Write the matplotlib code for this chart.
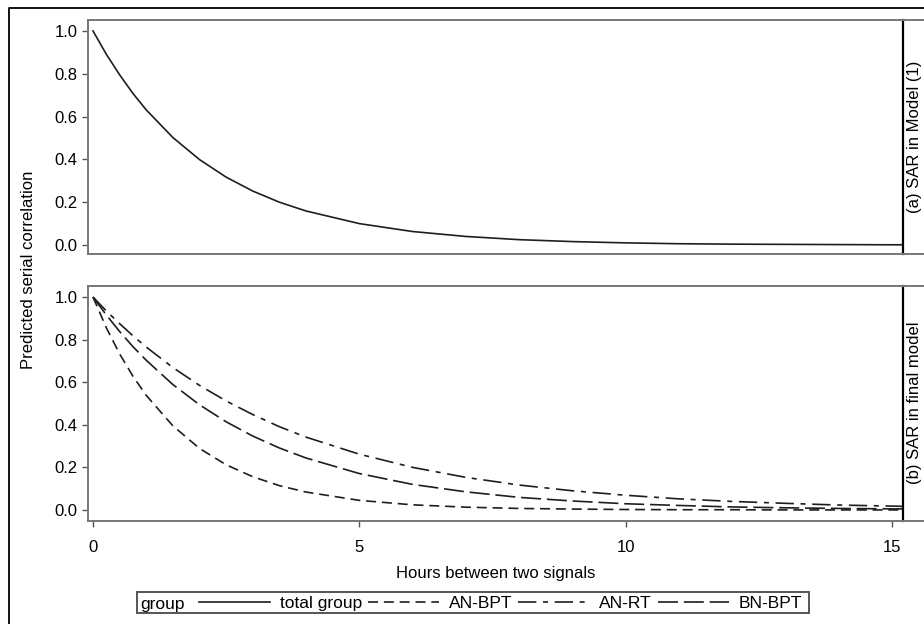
import matplotlib
matplotlib.use("Agg")
import matplotlib.pyplot as plt
from matplotlib.lines import Line2D
from matplotlib.patches import Rectangle

plt.rcParams['font.family'] = ['Liberation Sans', 'DejaVu Sans']
plt.rcParams['font.size'] = 12

# hours between two signals
hours = [0, 0.25, 0.5, 0.75, 1, 1.5, 2, 2.5, 3, 3.5, 4, 5, 6, 7, 8, 9, 10, 11, 12, 13, 14, 15, 15.2]

# (a) SAR in Model (1): total group
total_group = [1.000, 0.891, 0.795, 0.708, 0.631, 0.502, 0.399, 0.317, 0.252, 0.200, 0.159,
               0.100, 0.063, 0.040, 0.025, 0.016, 0.010, 0.006, 0.004, 0.003, 0.002, 0.001, 0.001]

# (b) SAR in final model
an_bpt = [1.000, 0.856, 0.733, 0.628, 0.538, 0.395, 0.289, 0.212, 0.156, 0.114, 0.084,
          0.045, 0.024, 0.013, 0.007, 0.004, 0.002, 0.001, 0.001, 0.000, 0.000, 0.000, 0.000]
an_rt = [1.000, 0.935, 0.875, 0.818, 0.765, 0.669, 0.585, 0.512, 0.448, 0.391, 0.342,
         0.262, 0.200, 0.153, 0.117, 0.090, 0.069, 0.052, 0.040, 0.031, 0.023, 0.018, 0.017]
bn_bpt = [1.000, 0.916, 0.838, 0.767, 0.703, 0.589, 0.494, 0.414, 0.347, 0.291, 0.244,
          0.171, 0.120, 0.085, 0.059, 0.042, 0.029, 0.021, 0.014, 0.010, 0.007, 0.005, 0.005]

y_ticks = [0.0, 0.2, 0.4, 0.6, 0.8, 1.0]
x_ticks = [0, 5, 10, 15]
strip_labels = ["(a) SAR in Model (1)", "(b) SAR in final model"]
legend_labels = ["total group", "AN-BPT", "AN-RT", "BN-BPT"]

W, H = 924, 624
fig = plt.figure(figsize=(W / 100, H / 100), dpi=100)

lc = "#1e1e1e"
lw = 1.2
styles = {
    "total": "-",
    "an_bpt": (0, (6, 3.5)),
    "an_rt": (0, (11, 4, 3, 4)),
    "bn_bpt": (0, (12, 3.5)),
}

def px_box(l, r, t, b):
    return [l / W, 1 - b / H, (r - l) / W, (b - t) / H]

ax1 = fig.add_axes(px_box(88, 903, 20, 254))
ax2 = fig.add_axes(px_box(88, 903, 286, 521))

ax1.plot(hours, total_group, color=lc, lw=lw, linestyle=styles["total"])
ax2.plot(hours, an_bpt, color=lc, lw=lw, linestyle=styles["an_bpt"])
ax2.plot(hours, bn_bpt, color=lc, lw=lw, linestyle=styles["bn_bpt"])
ax2.plot(hours, an_rt, color=lc, lw=lw, linestyle=styles["an_rt"])

ax1.set_ylim(-0.042, 1.051)
ax2.set_ylim(-0.052, 1.052)
for ax in (ax1, ax2):
    ax.set_xlim(-0.094, 15.21)
    ax.set_yticks(y_ticks)
    ax.set_yticklabels(["%.1f" % v for v in y_ticks])
    for s in ax.spines.values():
        s.set_color("#777777")
        s.set_linewidth(1.4)
    ax.spines["right"].set_color("black")
    ax.spines["right"].set_linewidth(1.6)
    ax.tick_params(axis="both", direction="out", length=4.5, width=1.0,
                   color="#555555", labelsize=12, pad=3)

ax1.set_xticks([])
ax2.set_xticks(x_ticks)
ax2.set_xticklabels([str(v) for v in x_ticks])
ax2.tick_params(axis="x", pad=9)
ax2.set_xlabel("Hours between two signals", fontsize=12, labelpad=8)

fig.text(29 / W, 1 - 270 / H, "Predicted serial correlation", rotation=90,
         ha="center", va="center", fontsize=12)

# strip labels on the right
fig.text(915 / W, 1 - 137 / H, strip_labels[0], rotation=90, ha="center", va="center", fontsize=12)
fig.text(915 / W, 1 - 403 / H, strip_labels[1], rotation=90, ha="center", va="center", fontsize=12)
for t, b in ((20, 254), (286, 521)):
    fig.add_artist(Line2D([903 / W, 1.0], [1 - t / H, 1 - t / H], color="#777777", lw=1.4))
    fig.add_artist(Line2D([903 / W, 1.0], [1 - b / H, 1 - b / H], color="#777777", lw=1.4))

# outer frame
fig.add_artist(Line2D([9 / W, 9 / W, 1.0], [0.0, 1 - 8 / H, 1 - 8 / H], color="black", lw=1.3))

# legend
fig.add_artist(Rectangle((137 / W, 1 - 613 / H), (809 - 137) / W, 21 / H,
                         transform=fig.transFigure, fill=False, edgecolor="#555555", lw=1.4))
fig.text(140 / W, 1 - 604.5 / H, "group", ha="left", va="center", fontsize=12.5)
handles = [Line2D([], [], color=lc, lw=lw, linestyle=styles[k])
           for k in ("total", "an_bpt", "an_rt", "bn_bpt")]
fig.legend(handles, legend_labels, loc="center left", bbox_to_anchor=(199 / W, 1 - 603 / H),
           ncol=4, frameon=False, fontsize=12.5, handlelength=4.1, handletextpad=0.55,
           columnspacing=0.35, borderpad=0, borderaxespad=0)

fig.savefig("out.png", dpi=100)
